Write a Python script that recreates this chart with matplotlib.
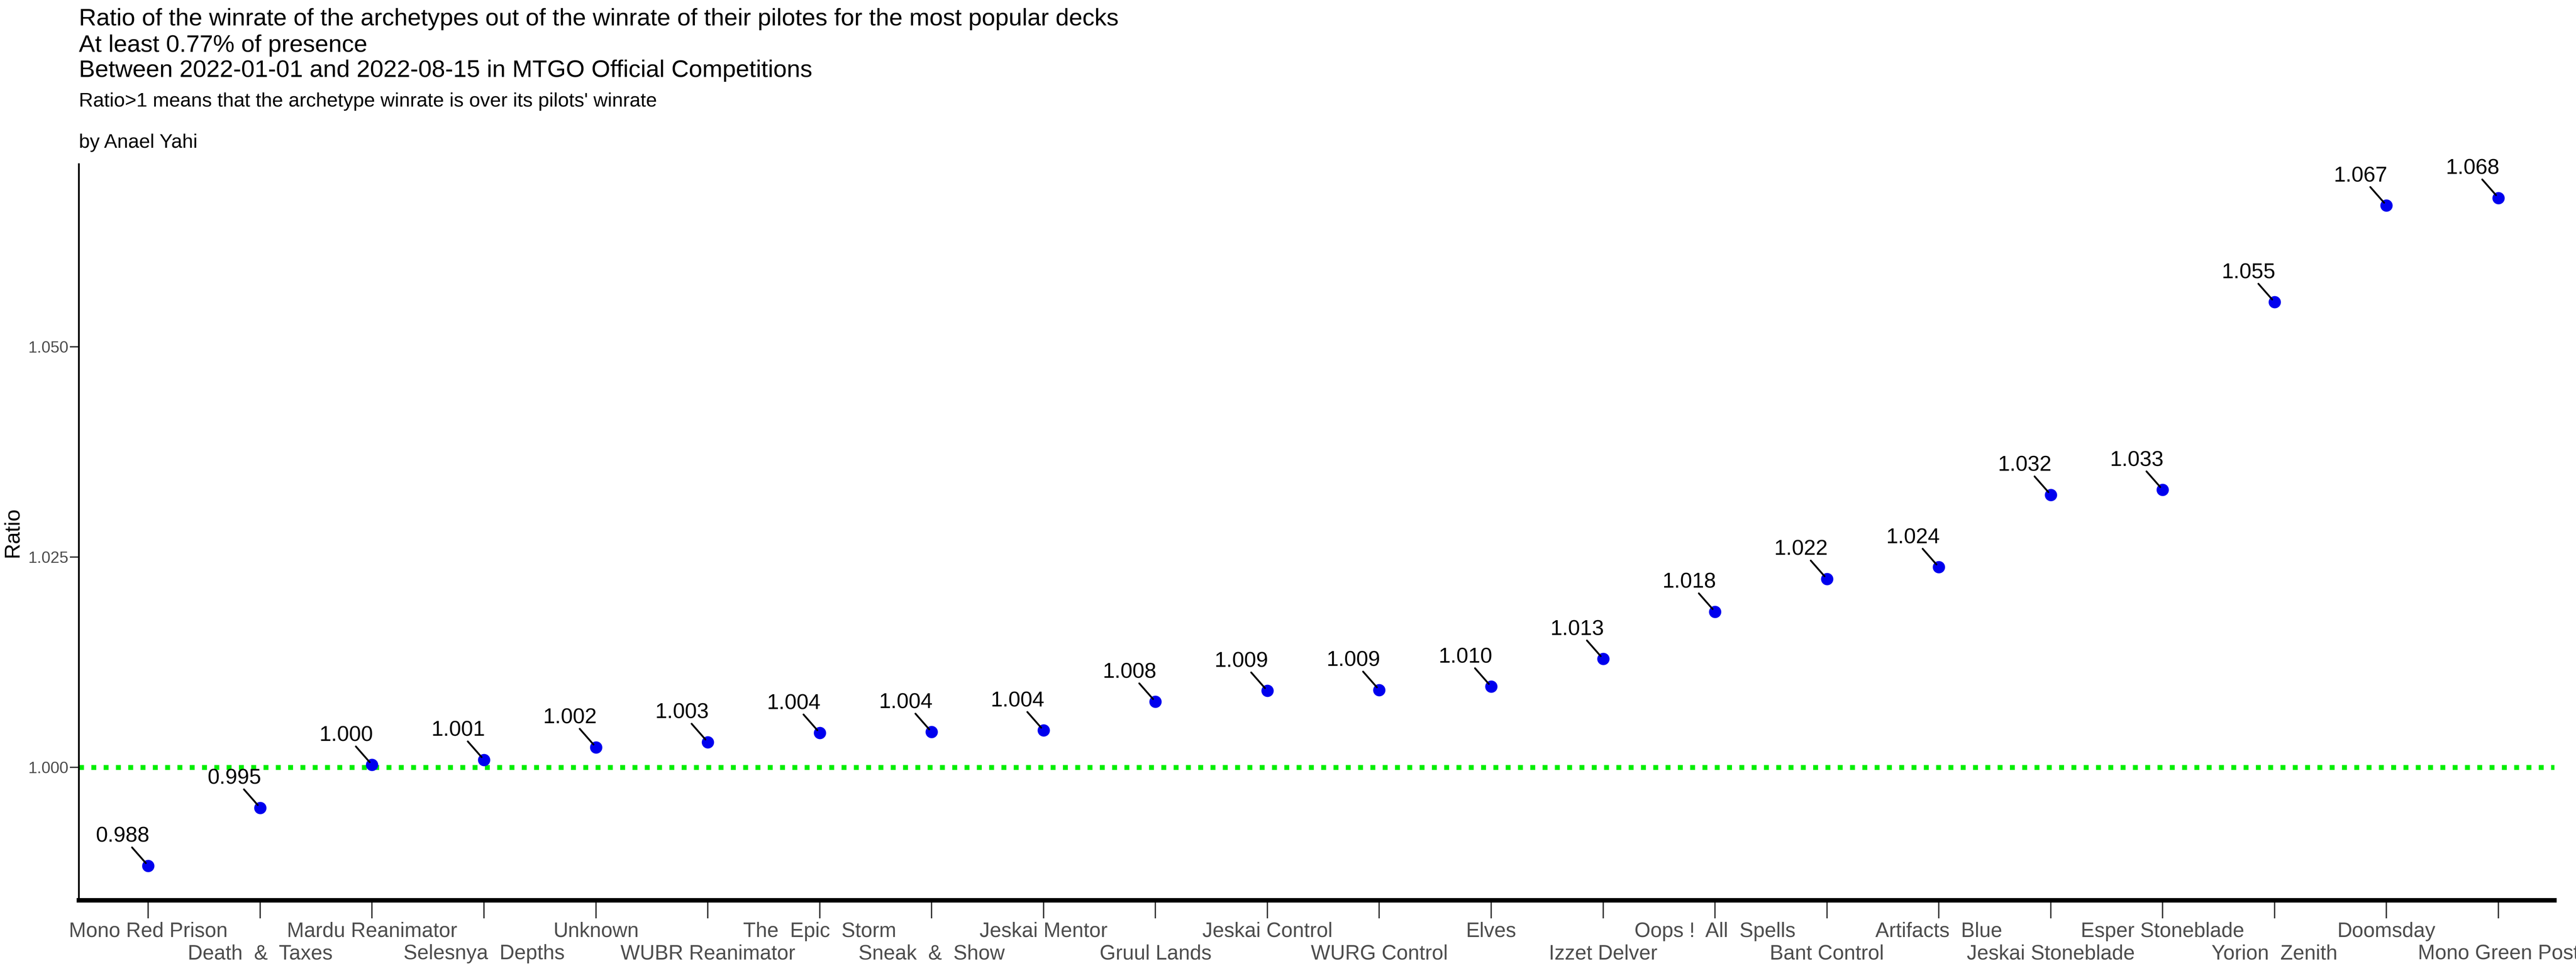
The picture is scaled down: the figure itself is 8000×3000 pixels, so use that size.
import matplotlib
matplotlib.use("Agg")
import matplotlib.pyplot as plt

plt.rcParams["font.family"] = ["Liberation Sans", "DejaVu Sans"]

decks = ["Mono Red Prison", "Death  &  Taxes", "Mardu Reanimator", "Selesnya  Depths",
         "Unknown", "WUBR Reanimator", "The  Epic  Storm", "Sneak  &  Show",
         "Jeskai Mentor", "Gruul Lands", "Jeskai Control", "WURG Control", "Elves",
         "Izzet Delver", "Oops !  All  Spells", "Bant Control", "Artifacts  Blue",
         "Jeskai Stoneblade", "Esper Stoneblade", "Yorion  Zenith", "Doomsday",
         "Mono Green Post"]
ratios = [0.9883, 0.9952, 1.0003, 1.0009, 1.0024, 1.0030, 1.0041, 1.0042, 1.0044,
          1.0078, 1.0091, 1.0092, 1.0096, 1.0129, 1.0185, 1.0224, 1.0238, 1.0324,
          1.0330, 1.0553, 1.0668, 1.0677]

fig = plt.figure(figsize=(80, 30), dpi=100)
ax = fig.add_axes([0.0306, 0.068, 0.961, 0.762])
x = list(range(len(decks)))

ax.axhline(1.0, color="#00ee00", linestyle=(0, (1, 1.5)), linewidth=11, zorder=1)
ax.scatter(x, ratios, s=700, color="#0000ee", zorder=3)
for xi, r in zip(x, ratios):
    ax.annotate(f"{r:.3f}", xy=(xi, r), xytext=(-80, 60), textcoords="offset pixels",
                ha="center", va="bottom", fontsize=48,
                arrowprops=dict(arrowstyle="-", color="black", lw=4,
                                shrinkA=0, shrinkB=8))

ax.set_xlim(-0.62, 21.5)
ax.set_ylim(0.9842, 1.0717)
ax.set_yticks([1.000, 1.025, 1.050])
ax.set_yticklabels(["1.000", "1.025", "1.050"])
ax.set_xticks(x)
ax.set_xticklabels([d if i % 2 == 0 else "\n" + d for i, d in enumerate(decks)])
ax.tick_params(axis="x", labelsize=46, length=40, width=3, color="#333333",
               labelcolor="#4d4d4d", pad=8)
ax.tick_params(axis="y", labelsize=36, length=20, width=3, color="#333333",
               labelcolor="#4d4d4d")
ax.set_ylabel("Ratio", fontsize=48, labelpad=12)
for s in ["top", "right"]:
    ax.spines[s].set_visible(False)
ax.spines["left"].set_linewidth(4)
ax.spines["bottom"].set_linewidth(10)

tx = 0.0306
fig.text(tx, 0.980, "Ratio of the winrate of the archetypes out of the winrate of their pilotes for the most popular decks",
         fontsize=54, va="center")
fig.text(tx, 0.953, "At least 0.77% of presence", fontsize=54, va="center")
fig.text(tx, 0.927, "Between 2022-01-01 and 2022-08-15 in MTGO Official Competitions", fontsize=54, va="center")
fig.text(tx, 0.895, "Ratio>1 means that the archetype winrate is over its pilots' winrate", fontsize=44, va="center")
fig.text(tx, 0.852, "by Anael Yahi", fontsize=44, va="center")

fig.savefig("out.png", dpi=100)
